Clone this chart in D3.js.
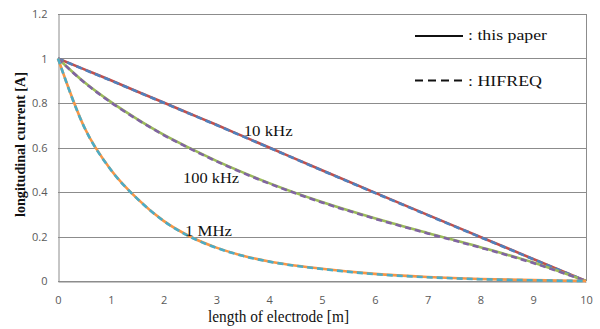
<!DOCTYPE html>
<html>
<head>
    <meta charset="utf-8">
    <style>
        body { margin: 0; background: #fff; }
        .tick text { font: 11px "Open Sans", "DejaVu Sans", sans-serif; fill: #595959; }
        .serif { font-family: "Liberation Serif", "DejaVu Serif", serif; fill: #111; }
    </style>
</head>
<body>
    <div id="container"></div>
    <script src="https://d3js.org/d3.v7.min.js"></script>
    <script>
        // length along electrode [m]
        const xs = [0, 0.5, 1, 1.5, 2, 2.5, 3, 3.5, 4, 5, 6, 7, 8, 9, 10];

        // 10 kHz
        const paper10k  = [1, 0.951, 0.902, 0.852, 0.802, 0.752, 0.702, 0.651, 0.600, 0.498, 0.397, 0.297, 0.198, 0.099, 0];
        const hifreq10k = [1, 0.950, 0.901, 0.851, 0.801, 0.751, 0.701, 0.650, 0.599, 0.497, 0.396, 0.296, 0.197, 0.098, 0];
        // 100 kHz
        const paper100k  = [1, 0.893, 0.805, 0.728, 0.658, 0.597, 0.540, 0.488, 0.440, 0.355, 0.282, 0.216, 0.152, 0.083, 0];
        const hifreq100k = [1, 0.892, 0.803, 0.726, 0.656, 0.595, 0.538, 0.486, 0.438, 0.353, 0.280, 0.214, 0.150, 0.081, 0];
        // 1 MHz
        const paper1M  = [1, 0.69, 0.50, 0.37, 0.27, 0.200, 0.150, 0.114, 0.088, 0.055, 0.032, 0.018, 0.009, 0.004, 0];
        const hifreq1M = [1, 0.69, 0.50, 0.37, 0.27, 0.199, 0.149, 0.113, 0.087, 0.054, 0.031, 0.017, 0.008, 0.003, 0];

        const xTicks = d3.range(0, 11, 1);
        const yTicks = [0, 0.2, 0.4, 0.6, 0.8, 1, 1.2];

        const series = [
            { values: paper10k,   color: "#c0504d", dash: null },
            { values: hifreq10k,  color: "#4f81bd", dash: "6,4" },
            { values: paper100k,  color: "#9bbb59", dash: null },
            { values: hifreq100k, color: "#8064a2", dash: "6,4" },
            { values: paper1M,    color: "#f79646", dash: null },
            { values: hifreq1M,   color: "#4bacc6", dash: "6,4" }
        ];

        const labels = [
            { text: "10 kHz",  x: 3.98, y: 0.652, len: 49 },
            { text: "100 kHz", x: 2.9,  y: 0.44,  len: 56 },
            { text: "1 MHz",   x: 2.85, y: 0.202, len: 47 }
        ];

        const width = 600, height = 329;
        const margin = { top: 14, right: 14, bottom: 48, left: 58 };

        const svg = d3.select("#container").append("svg")
            .attr("width", width)
            .attr("height", height);

        const x = d3.scaleLinear().domain([0, 10]).range([margin.left, width - margin.right]);
        const y = d3.scaleLinear().domain([0, 1.2]).range([height - margin.bottom, margin.top]);

        // grid
        svg.append("g")
            .selectAll("line")
            .data(yTicks)
            .join("line")
            .attr("x1", x(0)).attr("x2", x(10))
            .attr("y1", d => Math.round(y(d)) + 0.5).attr("y2", d => Math.round(y(d)) + 0.5)
            .attr("stroke", "#8c8c8c");

        // right frame
        svg.append("line")
            .attr("x1", Math.round(x(10)) + 0.5).attr("x2", Math.round(x(10)) + 0.5)
            .attr("y1", y(1.2)).attr("y2", y(0))
            .attr("stroke", "#8c8c8c");

        const xAxis = svg.append("g")
            .attr("transform", `translate(0,${Math.round(y(0)) + 0.5})`)
            .call(d3.axisBottom(x).tickValues(xTicks).tickSize(0).tickPadding(15).tickFormat(d3.format("d")));
        xAxis.select(".domain").attr("stroke", "#8c8c8c");

        const yAxis = svg.append("g")
            .attr("transform", `translate(${Math.round(x(0)) + 0.5},0)`)
            .call(d3.axisLeft(y).tickValues(yTicks).tickSize(0).tickPadding(11).tickFormat(d => d3.format("")(d)));
        yAxis.select(".domain").attr("stroke", "#8c8c8c");

        // curves
        const line = d3.line()
            .x((d, i) => x(xs[i]))
            .y(d => y(d))
            .curve(d3.curveMonotoneX);

        svg.append("g")
            .selectAll("path")
            .data(series)
            .join("path")
            .attr("d", d => line(d.values))
            .attr("fill", "none")
            .attr("stroke", d => d.color)
            .attr("stroke-width", 2.6)
            .attr("stroke-dasharray", d => d.dash);

        // curve labels
        svg.append("g")
            .selectAll("text")
            .data(labels)
            .join("text")
            .attr("class", "serif")
            .attr("x", d => x(d.x) - d.len / 2)
            .attr("y", d => y(d.y))
            .attr("font-size", 15.5)
            .attr("textLength", d => d.len)
            .attr("lengthAdjust", "spacingAndGlyphs")
            .text(d => d.text);

        // legend
        const legend = svg.append("g");
        legend.append("line")
            .attr("x1", 415).attr("x2", 463).attr("y1", 36).attr("y2", 36)
            .attr("stroke", "#111").attr("stroke-width", 2);
        legend.append("text").attr("class", "serif")
            .attr("x", 468).attr("y", 40).attr("font-size", 15)
            .attr("textLength", 79).attr("lengthAdjust", "spacingAndGlyphs")
            .text(": this paper");
        legend.append("line")
            .attr("x1", 415).attr("x2", 463).attr("y1", 80.5).attr("y2", 80.5)
            .attr("stroke", "#111").attr("stroke-width", 2)
            .attr("stroke-dasharray", "8,5");
        legend.append("text").attr("class", "serif")
            .attr("x", 468).attr("y", 86).attr("font-size", 15)
            .attr("textLength", 74).attr("lengthAdjust", "spacingAndGlyphs")
            .text(": HIFREQ");

        // axis titles
        svg.append("text").attr("class", "serif")
            .attr("x", 208).attr("y", 322)
            .attr("font-size", 16)
            .attr("textLength", 141).attr("lengthAdjust", "spacingAndGlyphs")
            .text("length of electrode [m]");

        svg.append("text").attr("class", "serif")
            .attr("transform", "translate(25,217) rotate(-90)")
            .attr("font-size", 15)
            .attr("font-weight", "bold")
            .attr("textLength", 145).attr("lengthAdjust", "spacingAndGlyphs")
            .text("longitudinal current [A]");
    </script>
</body>
</html>
